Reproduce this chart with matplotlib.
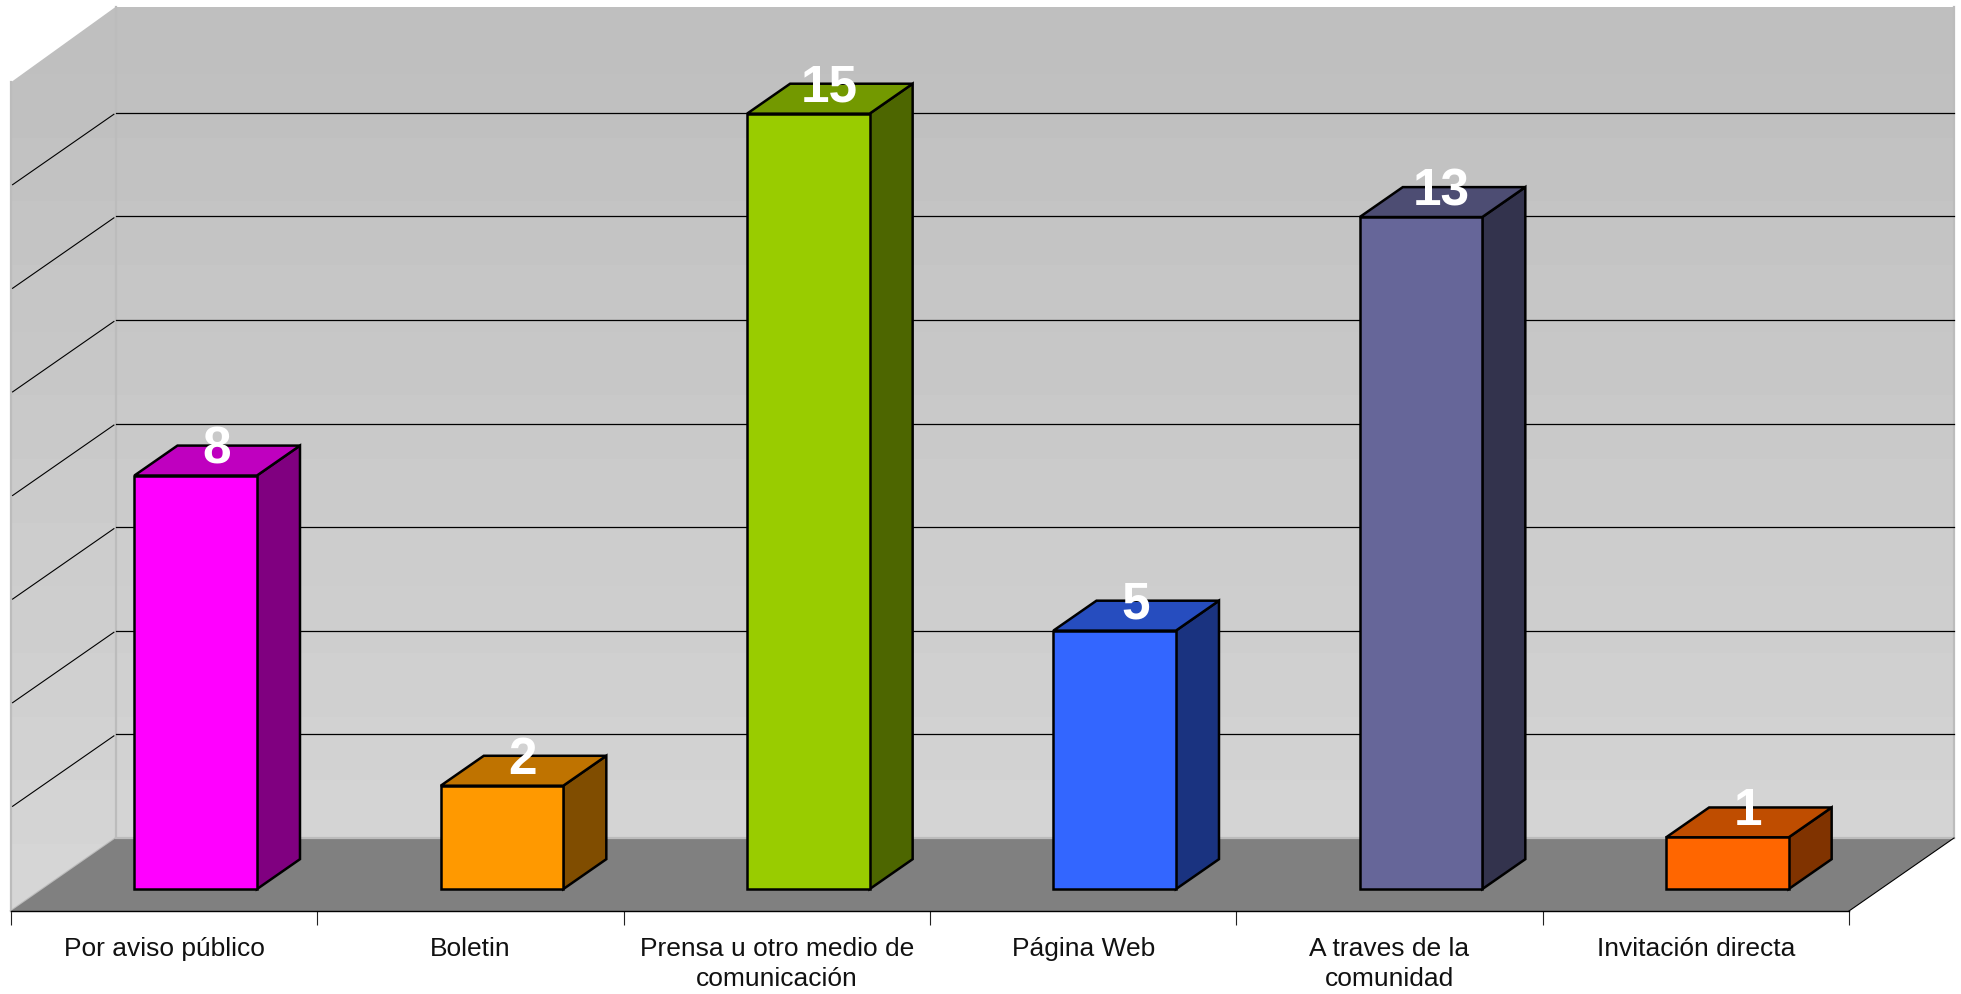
import numpy as np
import matplotlib
matplotlib.use("Agg")
import matplotlib.pyplot as plt
from matplotlib.patches import Polygon
from matplotlib.colors import LinearSegmentedColormap

categories = ["Por aviso público", "Boletin", "Prensa u otro medio de\ncomunicación",
              "Página Web", "A traves de la\ncomunidad", "Invitación directa"]
values = [8, 2, 15, 5, 13, 1]
front_colors = ["#FF00FF", "#FF9900", "#99CC00", "#3366FF", "#666699", "#FF6600"]
top_colors = ["#BF00BF", "#BF7300", "#739900", "#264DBF", "#4D4D73", "#BF4D00"]
side_colors = ["#800080", "#804D00", "#4D6600", "#1A3380", "#33334D", "#803300"]
grid_values = [2, 4, 6, 8, 10, 12, 14]
wall_top = 16.05
wall_top_front = 16.0

W, H = 1961, 995
PX_L, PX_R, PX_B, PX_T = 11, 1849, 912, 8
UNIT_PX = 51.8
CAT_PX = (PX_R - PX_L) / 6
DX = 105 / CAT_PX           # oblique depth, x data units per full depth
DY = 73 / UNIT_PX           # oblique depth, y data units per full depth
BAR_D0 = 0.30
BAR_DD = 0.41
BAR_X0 = 0.30
BAR_W = 0.40
BAR_SCALE = 0.998

fig = plt.figure(figsize=(W / 100, H / 100), dpi=100, facecolor="white")
ax = fig.add_axes([PX_L / W, 1 - PX_B / H, (PX_R - PX_L) / W, (PX_B - PX_T) / H])
ax.patch.set_visible(False)
ymax = (PX_B - PX_T) / UNIT_PX


def pr(x, v, d):
    return (x + d * DX, v + d * DY)


# walls with vertical gradient
cmap = LinearSegmentedColormap.from_list("wall", ["#BFBFBF", "#D6D6D6"], N=14)
img = ax.imshow(np.linspace(0, 1, 256).reshape(-1, 1), cmap=cmap, aspect="auto",
                extent=(-0.1, 6.5, 0, ymax), origin="upper", zorder=1)
wall_pts = [pr(0, 0, 0), pr(0, wall_top_front, 0), pr(0, wall_top, 1), pr(6, wall_top, 1), pr(6, 0, 1), pr(0, 0, 1)]
wall = Polygon(wall_pts, closed=True, fc="none", ec="none", transform=ax.transData)
ax.add_patch(wall)
img.set_clip_path(wall)
img.set_clip_box(fig.bbox)

# wall borders
for a, b in [(pr(0, 0, 0), pr(0, wall_top_front, 0)), (pr(0, 0, 1), pr(0, wall_top, 1)),
             (pr(6, 0, 1), pr(6, wall_top, 1)), (pr(0, 0, 0), pr(0, 0, 1))]:
    ax.plot([a[0], b[0]], [a[1], b[1]], color="#BCBCBC", lw=1.6, zorder=2, clip_on=False)

# floor
ax.add_patch(Polygon([pr(0, 0, 0), pr(6, 0, 0), pr(6, 0, 1), pr(0, 0, 1)], closed=True,
                     fc="#808080", ec="none", zorder=2, clip_on=False))
ax.plot([pr(0, 0, 1)[0], pr(6, 0, 1)[0]], [pr(0, 0, 1)[1]] * 2, color="#BCBCBC", lw=1.6, zorder=2.1, clip_on=False)
a, b = pr(6, 0, 0), pr(6, 0, 1)
ax.plot([a[0], b[0]], [a[1], b[1]], color="black", lw=0.8, zorder=2.2, clip_on=False)

# gridlines
for g in grid_values:
    a, b, c = pr(0, g, 0.015), pr(0, g, 0.98), pr(6, g, 1)
    ax.plot([a[0], b[0]], [a[1], b[1]], color="black", lw=0.8, zorder=3, clip_on=False)
    ax.plot([pr(0, g, 1)[0], c[0]], [c[1], c[1]], color="black", lw=0.9, zorder=3, clip_on=False)

# bars
for i, val in enumerate(values):
    v = val * BAR_SCALE
    x0, x1 = i + BAR_X0, i + BAR_X0 + BAR_W
    d0, d1 = BAR_D0, BAR_D0 + BAR_DD
    kw = dict(closed=True, ec="black", lw=1.8, joinstyle="miter", zorder=4, clip_on=False)
    ax.add_patch(Polygon([pr(x1, 0, d0), pr(x1, 0, d1), pr(x1, v, d1), pr(x1, v, d0)], fc=side_colors[i], **kw))
    ax.add_patch(Polygon([pr(x0, v, d0), pr(x1, v, d0), pr(x1, v, d1), pr(x0, v, d1)], fc=top_colors[i], **kw))
    ax.add_patch(Polygon([pr(x0, 0, d0), pr(x1, 0, d0), pr(x1, v, d0), pr(x0, v, d0)], fc=front_colors[i], **kw))
    tx, ty = pr((x0 + x1) / 2, v, d1)
    ax.annotate(str(val), (tx - 0.5 * BAR_DD * DX, ty), xytext=(-0.7, -2.5), textcoords="offset points",
                color="white", fontsize=37, fontweight="bold", family="Liberation Sans",
                ha="center", va="center", zorder=5, annotation_clip=False)

ax.set_xlim(0, 6)
ax.set_ylim(0, ymax)
for s in ("top", "left", "right"):
    ax.spines[s].set_visible(False)
ax.spines["bottom"].set_linewidth(1.0)
ax.spines["bottom"].set_zorder(6)
ax.set_yticks([])
ax.set_xticks(range(7))
ax.set_xticklabels([])
ax.tick_params(axis="x", which="major", length=10, width=0.8, color="#222222", direction="out")
ax.set_xticks(np.arange(6) + 0.5, minor=True)
ax.set_xticklabels(categories, minor=True, fontsize=19, family="Liberation Sans",
                   color="#111111", linespacing=1.3)
ax.tick_params(axis="x", which="minor", length=0, pad=18)

fig.savefig("out.png", dpi=100)
